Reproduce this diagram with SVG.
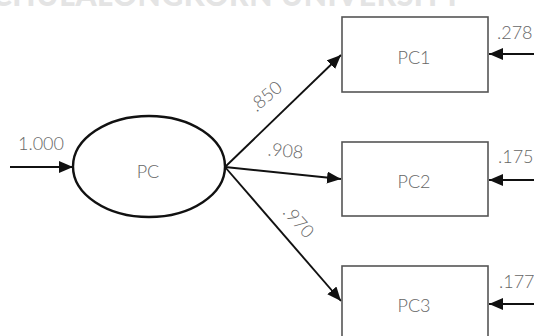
<svg xmlns="http://www.w3.org/2000/svg" width="534" height="336" viewBox="0 0 534 336">
<style>
.lbl{font-family:Lato,"Liberation Sans",sans-serif;font-weight:300;font-size:18px;fill:#666}
.box{fill:#fff;stroke:#555;stroke-width:1.6}
.ln{stroke:#111;stroke-width:1.9;fill:none}
.wm{font-family:Lato,"Liberation Sans",sans-serif;font-weight:900;font-size:30px;fill:#e4e4e4}
</style>
<defs>
<marker id="ah" markerUnits="userSpaceOnUse" markerWidth="15" markerHeight="13" refX="14" refY="6" orient="auto">
<path d="M0,0 L14,6 L0,12 z" fill="#111"/>
</marker>
</defs>
<text class="wm" x="-8" y="6" textLength="470">CHULALONGKORN UNIVERSITY</text>
<g id="connectors">
<path class="ln" d="M10,167 L73,167" marker-end="url(#ah)"/>
<path class="ln" d="M225,167 L341,55" marker-end="url(#ah)"/>
<path class="ln" d="M225,167 L341,179" marker-end="url(#ah)"/>
<path class="ln" d="M225,167 L341,301" marker-end="url(#ah)"/>
<path class="ln" d="M534,54 L489,54" marker-end="url(#ah)"/>
<path class="ln" d="M534,180 L489,180" marker-end="url(#ah)"/>
<path class="ln" d="M534,304 L489,304" marker-end="url(#ah)"/>
<text class="lbl" x="41" y="150" text-anchor="middle">1.000</text>
<text class="lbl" text-anchor="middle" transform="translate(270,101) rotate(-40)">.850</text>
<text class="lbl" text-anchor="middle" transform="translate(285,157) rotate(5)">.908</text>
<text class="lbl" text-anchor="middle" transform="translate(294,226) rotate(48)">.970</text>
<text class="lbl" x="497" y="39">.278</text>
<text class="lbl" x="498" y="163">.175</text>
<text class="lbl" x="499" y="288">.177</text>
</g>
<g id="PC">
<ellipse cx="149" cy="166.5" rx="76" ry="50.5" fill="#fff" stroke="#111" stroke-width="2.4"/>
<text class="lbl" x="148" y="178" text-anchor="middle">PC</text>
</g>
<g id="PC1">
<rect class="box" x="342" y="17" width="146" height="75"/>
<text class="lbl" x="414" y="64" text-anchor="middle">PC1</text>
</g>
<g id="PC2">
<rect class="box" x="342" y="142" width="146" height="74"/>
<text class="lbl" x="414" y="188" text-anchor="middle">PC2</text>
</g>
<g id="PC3">
<rect class="box" x="342" y="266" width="146" height="76"/>
<text class="lbl" x="414" y="312" text-anchor="middle">PC3</text>
</g>
</svg>
